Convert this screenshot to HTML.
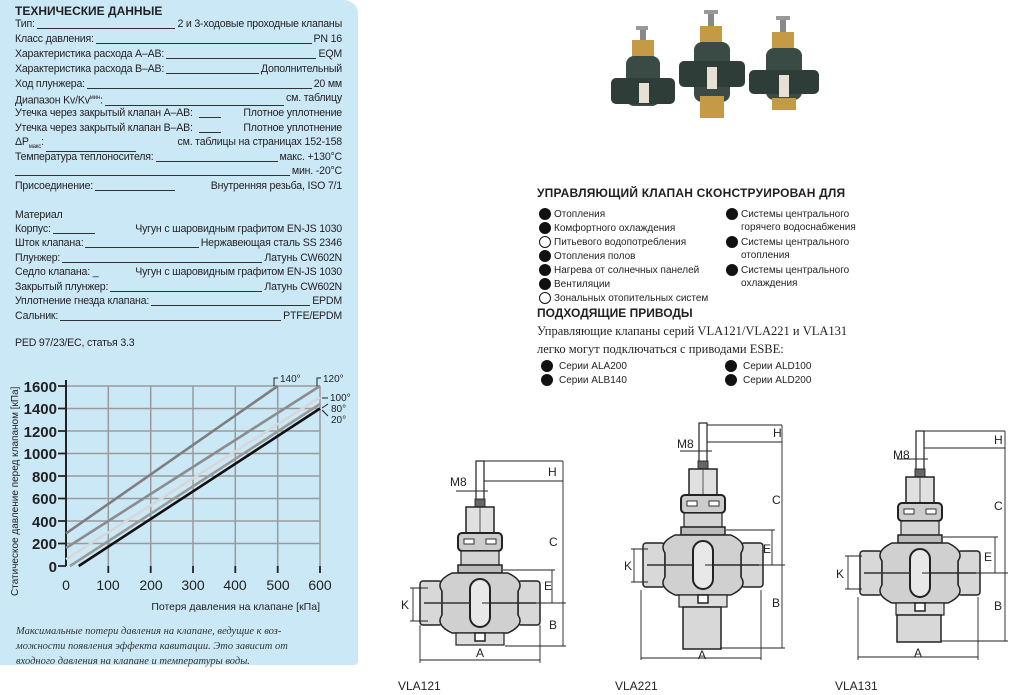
<!DOCTYPE html>
<html><head><meta charset="utf-8"><style>
body{margin:0;width:1017px;height:695px;background:#fff;position:relative;overflow:hidden;font-family:"Liberation Sans",sans-serif;color:#231f20}
.panel{position:absolute;left:0;top:0;width:358px;height:665px;background:#cbe8f7;border-top-right-radius:14px;border-bottom-right-radius:4px}
.r{position:absolute;left:15px;width:327px;display:flex;font-size:10.6px;line-height:13px;white-space:nowrap;letter-spacing:-0.2px}
.r .f{flex:1;border-bottom:1px solid #333;margin:0 2px 2px 2px}
.t{position:absolute;white-space:nowrap}
.b{position:absolute;font-size:10px;line-height:13px;white-space:nowrap;padding-left:15px}
.b:before{content:"";position:absolute;left:0;top:0px;width:12px;height:12px;border-radius:50%;background:#111}
.b.o:before{background:#fff;border:1px solid #111;width:10px;height:10px}
</style></head><body>
<div class="panel"></div>
<div class="t" style="left:15px;top:4px;font-weight:bold;font-size:12px">ТЕХНИЧЕСКИЕ ДАННЫЕ</div>
<div class="r" style="top:18px"><span>Тип:</span><span class="f"></span><span>2 и 3-ходовые проходные клапаны</span></div>
<div class="r" style="top:33px"><span>Класс давления:</span><span class="f"></span><span>PN 16</span></div>
<div class="r" style="top:48px"><span>Характеристика расхода A–AB:</span><span class="f"></span><span>EQM</span></div>
<div class="r" style="top:63px"><span>Характеристика расхода B–AB:</span><span class="f"></span><span>Дополнительный</span></div>
<div class="r" style="top:78px"><span>Ход плунжера:</span><span class="f"></span><span>20 мм</span></div>
<div class="r" style="top:92px"><span>Диапазон Kv/Kv<sup style="font-size:6px">мин</sup>:</span><span class="f"></span><span>см. таблицу</span></div>
<div class="r" style="top:107px"><span>Утечка через закрытый клапан A–AB:</span><span class="f" style="flex:0 0 22px;margin:0 6px 2px"></span><span style="margin-left:auto">Плотное уплотнение</span></div>
<div class="r" style="top:122px"><span>Утечка через закрытый клапан B–AB:</span><span class="f" style="flex:0 0 22px;margin:0 6px 2px"></span><span style="margin-left:auto">Плотное уплотнение</span></div>
<div class="r" style="top:136px"><span>ΔP<sub style="font-size:6px">макс</sub>:</span><span class="f" style="flex:0 0 90px"></span><span style="margin-left:auto">см. таблицы на страницах 152-158</span></div>
<div class="r" style="top:151px"><span>Температура теплоносителя:</span><span class="f"></span><span>макс. +130°C</span></div>
<div class="r" style="top:165px"><span class="f" style="margin-left:0"></span><span>мин. -20°C</span></div>
<div class="r" style="top:180px"><span>Присоединение:</span><span class="f" style="flex:0 0 80px"></span><span style="margin-left:auto">Внутренняя резьба, ISO 7/1</span></div>
<div class="r" style="top:209px"><span>Материал</span></div>
<div class="r" style="top:223px"><span>Корпус:</span><span class="f" style="flex:0 0 42px;margin-right:6px"></span><span style="margin-left:auto">Чугун с шаровидным графитом EN-JS 1030</span></div>
<div class="r" style="top:237px"><span>Шток клапана:</span><span class="f"></span><span>Нержавеющая сталь SS 2346</span></div>
<div class="r" style="top:252px"><span>Плунжер:</span><span class="f"></span><span>Латунь CW602N</span></div>
<div class="r" style="top:266px"><span>Седло клапана: _</span><span style="margin-left:auto">Чугун с шаровидным графитом EN-JS 1030</span></div>
<div class="r" style="top:281px"><span>Закрытый плунжер:</span><span class="f"></span><span>Латунь CW602N</span></div>
<div class="r" style="top:295px"><span>Уплотнение гнезда клапана:</span><span class="f"></span><span>EPDM</span></div>
<div class="r" style="top:310px"><span>Сальник:</span><span class="f"></span><span>PTFE/EPDM</span></div>
<div class="r" style="top:337px"><span>PED 97/23/EC, статья 3.3</span></div>

<svg style="position:absolute;left:0;top:0" width="1017" height="695" font-family="Liberation Sans, sans-serif">
<g stroke="#9a9a9a" stroke-width="1.5" fill="none">
<path d="M108.3 386V566M150.7 386V566M193 386V566M235.3 386V566M277.7 386V566M320 386V566"/>
<path d="M66 386H320M66 408.5H320M66 431H320M66 453.5H320M66 476H320M66 498.5H320M66 521H320M66 543.5H320"/>
</g>
<g stroke="#222" stroke-width="2">
<path d="M66 380V566"/>
<path d="M58 386H66M58 408.5H66M58 431H66M58 453.5H66M58 476H66M58 498.5H66M58 521H66M58 543.5H66M58 566H66" stroke-width="1.8"/>
<path d="M108.3 566v7M150.7 566v7M193 566v7M235.3 566v7M277.7 566v7M320 566v7" stroke-width="1.8"/>
</g>
<g stroke-width="2.6" fill="none">
<line x1="66" y1="533.4" x2="277.7" y2="386" stroke="#7e7e7e"/>
<line x1="66" y1="548" x2="320" y2="386" stroke="#8c8c8c"/>
<line x1="66" y1="559.3" x2="320" y2="397.3" stroke="#d7d7d7"/>
<line x1="70" y1="566" x2="320" y2="404" stroke="#9a9a9a"/>
<line x1="78.7" y1="566" x2="320" y2="408.5" stroke="#111"/>
</g>
<g font-size="10" fill="#222" stroke="none">
<path d="M274 386V378h4M317 386V378h4M322 398h6M322 408l6-4M322 410l6 6" stroke="#222" fill="none"/>
<text x="280" y="382">140°</text><text x="323" y="382">120°</text>
<text x="330" y="401">100°</text><text x="331" y="412">80°</text><text x="331" y="423">20°</text>
</g>
<g font-size="15" fill="#222" font-weight="bold" text-anchor="end">
<text x="57" y="392">1600</text><text x="57" y="414">1400</text><text x="57" y="437">1200</text><text x="57" y="459">1000</text><text x="57" y="482">800</text><text x="57" y="504">600</text><text x="57" y="527">400</text><text x="57" y="549">200</text><text x="57" y="572">0</text>
</g>
<g font-size="14" fill="#222" text-anchor="middle">
<text x="66" y="590">0</text><text x="108" y="590">100</text><text x="151" y="590">200</text><text x="193" y="590">300</text><text x="235" y="590">400</text><text x="278" y="590">500</text><text x="320" y="590">600</text>
</g>
<text x="320" y="610" font-size="10.5" text-anchor="end" fill="#222">Потеря давления на клапане [кПа]</text>
<text transform="translate(18,596) rotate(-90)" font-size="10" fill="#222">Статическое давление перед клапаном [кПа]</text>
<g font-family="Liberation Serif, serif" font-style="italic" font-size="10.5" fill="#333">
<text x="16" y="634">Максимальные потери давления на клапане, ведущие к воз-</text>
<text x="16" y="649">можности появления эффекта кавитации. Это зависит от</text>
<text x="16" y="664">входного давления на клапане и температуры воды.</text>
</g>

<g>
<g transform="translate(648,78)">
<rect x="-8" y="-50" width="6" height="12" fill="#888"/><rect x="-12" y="-52" width="12" height="4" fill="#999"/>
<rect x="-16" y="-38" width="22" height="18" fill="#c49a45"/>
<rect x="-22" y="-22" width="34" height="50" rx="8" fill="#3a4a44"/>
<rect x="-37" y="0" width="64" height="26" rx="5" fill="#2f3d38"/>
<rect x="-9" y="5" width="10" height="20" fill="#e8e0d5"/>
</g>
<g transform="translate(712,64)">
<rect x="-4" y="-52" width="6" height="14" fill="#888"/><rect x="-8" y="-54" width="14" height="4" fill="#999"/>
<rect x="-12" y="-38" width="22" height="18" fill="#c49a45"/>
<rect x="-18" y="-22" width="36" height="60" rx="8" fill="#3a4a44"/>
<rect x="-33" y="-3" width="66" height="26" rx="5" fill="#2f3d38"/>
<rect x="-5" y="3" width="10" height="22" fill="#e8e0d5"/>
<rect x="-12" y="32" width="24" height="22" fill="#c49a45"/>
</g>
<g transform="translate(784,70)">
<rect x="-4" y="-52" width="6" height="14" fill="#888"/><rect x="-8" y="-54" width="14" height="4" fill="#999"/>
<rect x="-12" y="-38" width="22" height="16" fill="#c49a45"/>
<rect x="-18" y="-22" width="36" height="52" rx="8" fill="#3a4a44"/>
<rect x="-35" y="0" width="70" height="24" rx="5" fill="#2f3d38"/>
<rect x="-5" y="5" width="10" height="22" fill="#e8e0d5"/>
<rect x="-12" y="28" width="24" height="12" fill="#c49a45"/>
</g>
</g>

<defs>
<g id="v">
<rect x="-4" y="-142" width="8" height="40" fill="#fff" stroke="#222" stroke-width="1.2"/>
<rect x="-5" y="-104" width="10" height="8" fill="#666"/>
<rect x="-14" y="-96" width="28" height="26" fill="#e0e0e0" stroke="#222" stroke-width="1.5"/>
<line x1="0" y1="-96" x2="0" y2="-70" stroke="#444"/>
<rect x="-22" y="-70" width="44" height="18" rx="4" fill="#ccc" stroke="#222" stroke-width="2"/>
<rect x="-16" y="-64" width="10" height="5" fill="#fff" stroke="#222"/><rect x="6" y="-64" width="10" height="5" fill="#fff" stroke="#222"/>
<rect x="-19" y="-52" width="38" height="14" fill="#d4d4d4" stroke="#222" stroke-width="1.2"/>
<rect x="-22" y="-38" width="44" height="8" fill="#bbb" stroke="#222" stroke-width="1.5"/>
<rect x="-60" y="-22" width="22" height="44" rx="3" fill="#d8d8d8" stroke="#222" stroke-width="1.5"/>
<rect x="38" y="-22" width="22" height="44" rx="3" fill="#d8d8d8" stroke="#222" stroke-width="1.5"/>
<path d="M-28 -30 Q-45 -22 -38 -12 L-38 12 Q-45 22 -28 30 L28 30 Q45 22 38 12 L38 -12 Q45 -22 28 -30Z" fill="#d0d0d0" stroke="#222" stroke-width="1.5"/>
<rect x="-10" y="-24" width="20" height="48" rx="10" fill="#e8e8e8" stroke="#222" stroke-width="2"/>
<line x1="-56" y1="0" x2="-10" y2="0" stroke="#333" stroke-width="1.5"/><line x1="10" y1="0" x2="56" y2="0" stroke="#333" stroke-width="1.5"/>
<rect x="-24" y="30" width="48" height="12" fill="#ddd" stroke="#222" stroke-width="1.2"/>
<rect x="-5" y="30" width="10" height="8" fill="#fff" stroke="#222" stroke-width="1.5"/>
</g>
</defs>
<g stroke="#222" stroke-width="0.9" fill="none" font-size="12" >
<use href="#v" transform="translate(480,603)"/>
<path d="M484 461H563M484 481H563M563 461V646M505 646H566M503 570H555M552 570V603M482 603H566M413 588V621M410 588H428M410 621H428M420 625V663M540 625V663M420 660H540M456 491H488"/>
<use href="#v" transform="translate(703,565)"/>
<rect x="683" y="607" width="38" height="42" fill="#d8d8d8" stroke="#222" stroke-width="1.5"/>
<path d="M707 425H782M707 442H782M782 425V648M720 648H785M726 530H775M772 530V565M705 565H785M634 549V582M631 549H648M631 582H648M641 590V660M761 590V660M641 658H761M680 451H712"/>
<use href="#v" transform="translate(920,573)"/>
<rect x="897" y="615" width="44" height="27" fill="#d8d8d8" stroke="#222" stroke-width="1.5"/>
<path d="M924 431H1005M924 448H1005M1005 431V641M941 641H1008M943 537H998M995 537V573M922 573H1008M848 556V589M845 556H862M845 589H862M858 597V660M978 597V660M858 657H978M897 459H928"/>
</g>
<g font-size="12" fill="#222">
<text x="450" y="486">M8</text><text x="548" y="476">H</text><text x="549" y="546">C</text><text x="544" y="590">E</text><text x="549" y="629">B</text><text x="401" y="609">K</text><text x="476" y="657">A</text>
<text x="677" y="448">M8</text><text x="773" y="437">H</text><text x="772" y="504">C</text><text x="763" y="553">E</text><text x="772" y="607">B</text><text x="624" y="570">K</text><text x="698" y="659">A</text>
<text x="893" y="459">M8</text><text x="994" y="444">H</text><text x="994" y="510">C</text><text x="984" y="561">E</text><text x="994" y="610">B</text><text x="836" y="578">K</text><text x="914" y="657">A</text>
<text x="398" y="690">VLA121</text><text x="615" y="690">VLA221</text><text x="835" y="690">VLA131</text>
</g>
</svg>

<div class="t" style="left:537px;top:186px;font-weight:bold;font-size:12px;letter-spacing:0.2px">УПРАВЛЯЮЩИЙ КЛАПАН СКОНСТРУИРОВАН ДЛЯ</div>
<div class="b" style="left:539px;top:208px">Отопления</div>
<div class="b" style="left:539px;top:222px">Комфортного охлаждения</div>
<div class="b o" style="left:539px;top:236px">Питьевого водопотребления</div>
<div class="b" style="left:539px;top:250px">Отопления полов</div>
<div class="b" style="left:539px;top:264px">Нагрева от солнечных панелей</div>
<div class="b" style="left:539px;top:278px">Вентиляции</div>
<div class="b o" style="left:539px;top:292px">Зональных отопительных систем</div>
<div class="b" style="left:726px;top:208px">Системы центрального<br>горячего водоснабжения</div>
<div class="b" style="left:726px;top:236px">Системы центрального<br>отопления</div>
<div class="b" style="left:726px;top:264px">Системы центрального<br>охлаждения</div>
<div class="t" style="left:537px;top:306px;font-weight:bold;font-size:12px">ПОДХОДЯЩИЕ ПРИВОДЫ</div>
<div class="t" style="left:537px;top:324px;font-family:'Liberation Serif',serif;font-size:12.5px">Управляющие клапаны серий VLA121/VLA221 и VLA131</div>
<div class="t" style="left:537px;top:342px;font-family:'Liberation Serif',serif;font-size:12.5px">легко могут подключаться с приводами ESBE:</div>
<div class="b" style="left:541px;top:360px;padding-left:18px">Серии ALA200</div>
<div class="b" style="left:541px;top:374px;padding-left:18px">Серии ALB140</div>
<div class="b" style="left:725px;top:360px;padding-left:18px">Серии ALD100</div>
<div class="b" style="left:725px;top:374px;padding-left:18px">Серии ALD200</div>
</body></html>
